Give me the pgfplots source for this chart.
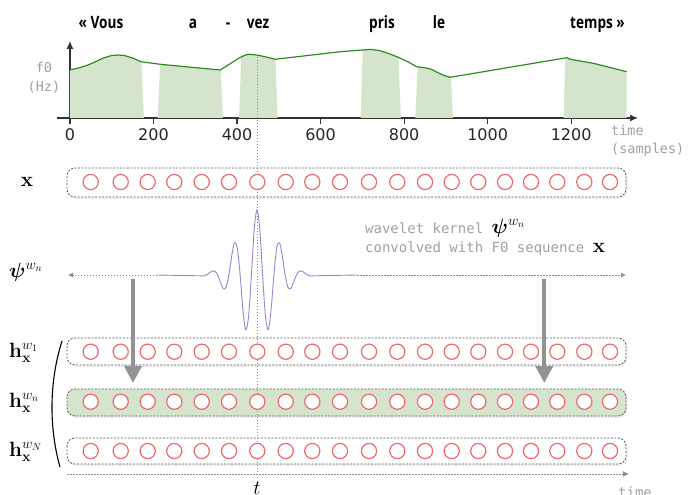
\documentclass[border=0pt]{standalone}
\usepackage[no-math]{fontspec}
\usepackage{bm}
\usepackage{pgfplots}
\pgfplotsset{compat=1.18}
\usetikzlibrary{arrows.meta,shadows}
\newfontfamily\tickfont{DejaVu Sans}
\newfontfamily\monofont{DejaVu Sans Mono}
\newfontfamily\wordfont[FakeStretch=0.8]{Open Sans}
\definecolor{fzgreen}{RGB}{44,140,32}
\definecolor{fzfill}{RGB}{213,228,205}
\definecolor{circ}{RGB}{238,106,106}
\definecolor{wav}{RGB}{140,140,210}
\definecolor{lbl}{RGB}{160,160,160}
\definecolor{arr}{RGB}{145,147,150}
\newcommand\msz{\fontsize{20bp}{24bp}\selectfont}
\tikzset{
  boxst/.style={draw=black!65, dash pattern=on 2bp off 1.5bp, line width=0.8bp, rounded corners=8bp,
    drop shadow={opacity=0.12, shadow xshift=1.5bp, shadow yshift=-2bp}},
  dotg/.style={draw=black!45, line width=0.8bp, dash pattern=on 1.5bp off 1.5bp}}
\pgfplotsset{circst/.style={only marks, mark=*, mark size=7.6bp, mark options={draw=circ, fill=white, line width=1.2bp}}}
\begin{document}
\begin{tikzpicture}
\path[use as bounding box] (0,0) rectangle (689bp,495bp);
% ---------------- top f0 axis ----------------
\begin{axis}[at={(57bp,377bp)}, anchor=south west, width=581bp, height=77bp, scale only axis,
  xmin=-31, xmax=1360, ymin=0, ymax=77, axis lines=middle,
  every inner x axis line/.append style={-{Latex[length=8bp,width=7bp]}},
  every inner y axis line/.append style={-{Latex[length=8bp,width=7bp]}},
  axis line style={line width=1.2bp, black!80},
  xtick={0,200,400,600,800,1000,1200}, ytick=\empty,
  hide obscured x ticks=false,
  tick align=outside, major tick length=6bp, tick style={line width=1.2bp, black!80},
  /pgf/number format/assume math mode=true, /pgf/number format/1000 sep={},
  xticklabel style={font=\tickfont\fontsize{16bp}{19bp}\selectfont, text=black!85, yshift=-1bp},
  clip=false]
\addplot[fill=fzfill, draw=none] coordinates {(177,0) (0,0) (0,48) (20,50) (40,52.5) (60,56) (80,60) (100,62.5) (115,63) (130,62.5) (150,60) (170,56.3) (171,56.2)} -- cycle;
\addplot[fill=fzfill, draw=none] coordinates {(210,0) (216,53.7) (360,48) (361,48.3) (366,0)} -- cycle;
\addplot[fill=fzfill, draw=none] coordinates {(405,0) (410,61) (420,63) (430,63.7) (447,63) (470,61) (491,58.7) (492,58.75) (497,0)} -- cycle;
\addplot[fill=fzfill, draw=none] coordinates {(696,0) (701,68) (720,68.6) (740,67.5) (760,65) (786,60.7) (787,60.5) (792,0)} -- cycle;
\addplot[fill=fzfill, draw=none] coordinates {(827,0) (832,51.2) (850,50.2) (865,48.8) (880,45.5) (895,42.7) (910,40.7) (912,40.84) (917,0)} -- cycle;
\addplot[fill=fzfill, draw=none] coordinates {(1182,0) (1186,60) (1190,60.3) (1198,58.7) (1253,54.7) (1333,46.3) (1333,0)} -- cycle;
\addplot[fzgreen, line width=1.2bp] coordinates {(0,48) (20,50) (40,52.5) (60,56) (80,60) (100,62.5) (115,63) (130,62.5) (150,60) (170,56.3) (216,53.7) (360,48) (405,60) (420,63) (430,63.7) (447,63) (470,61) (491,58.7) (647,66.3) (700,68) (720,68.6) (740,67.5) (760,65) (786,60.7) (810,56) (830,51.3) (850,50.2) (865,48.8) (880,45.5) (895,42.7) (910,40.7) (1190,60.3) (1198,58.7) (1253,54.7) (1333,46.3)};
\end{axis}
% ---------------- overlay axis in pixel units ----------------
\begin{axis}[at={(0,0)}, anchor=south west, width=689bp, height=495bp, scale only axis,
  xmin=0, xmax=689, ymin=0, ymax=495, y dir=reverse, hide axis, clip=false]
% word labels
\node[anchor=base, font=\wordfont\bfseries\fontsize{17bp}{20bp}\selectfont] at (axis cs:101,28.5) {« Vous};
\node[anchor=base, font=\wordfont\bfseries\fontsize{17bp}{20bp}\selectfont] at (axis cs:193,28.5) {a};
\node[anchor=base, font=\wordfont\bfseries\fontsize{17bp}{20bp}\selectfont] at (axis cs:228,28.5) {-};
\node[anchor=base, font=\wordfont\bfseries\fontsize{17bp}{20bp}\selectfont] at (axis cs:258,28.5) {vez};
\node[anchor=base, font=\wordfont\bfseries\fontsize{17bp}{20bp}\selectfont] at (axis cs:382,28.5) {pris};
\node[anchor=base, font=\wordfont\bfseries\fontsize{17bp}{20bp}\selectfont] at (axis cs:439,28.5) {le};
\node[anchor=base, font=\wordfont\bfseries\fontsize{17bp}{20bp}\selectfont] at (axis cs:597.5,28.5) {temps »};
% axis labels
\node[inner sep=0pt, align=center, font=\monofont\fontsize{13.5bp}{19bp}\selectfont, text=lbl] at (axis cs:44,77.5) {f0\\(Hz)};
\node[inner sep=0pt, anchor=west, align=left, font=\monofont\fontsize{13.5bp}{18.5bp}\selectfont, text=lbl] at (axis cs:611,141) {time\\(samples)};
% row boxes
\draw[boxst, fill=white] (axis cs:67,168) rectangle (axis cs:626,197);
\draw[boxst, fill=white] (axis cs:67,338) rectangle (axis cs:626,365);
\draw[boxst, fill=fzfill] (axis cs:67,389) rectangle (axis cs:626,416);
\draw[boxst, fill=white] (axis cs:67,438) rectangle (axis cs:626,464);
% circles
\addplot[circst] coordinates {(90.7,182) (120.7,182) (147.7,182) (174.3,182) (201.7,182) (229,182) (257.3,182) (285.7,182) (312.3,182) (340,182) (369,182) (397.3,182) (425,182) (451.7,182) (478.3,182) (505,182) (531,182) (557.3,182) (584.3,182) (610,182)};
\addplot[circst] coordinates {(90.7,351.7) (120.7,351.7) (147.7,351.7) (174.3,351.7) (201.7,351.7) (229,351.7) (257.3,351.7) (285.7,351.7) (312.3,351.7) (340,351.7) (369,351.7) (397.3,351.7) (425,351.7) (451.7,351.7) (478.3,351.7) (505,351.7) (531,351.7) (557.3,351.7) (584.3,351.7) (610,351.7)};
\addplot[circst] coordinates {(90.7,401.7) (120.7,401.7) (147.7,401.7) (174.3,401.7) (201.7,401.7) (229,401.7) (257.3,401.7) (285.7,401.7) (312.3,401.7) (340,401.7) (369,401.7) (397.3,401.7) (425,401.7) (451.7,401.7) (478.3,401.7) (505,401.7) (531,401.7) (557.3,401.7) (584.3,401.7) (610,401.7)};
\addplot[circst] coordinates {(90.7,451) (120.7,451) (147.7,451) (174.3,451) (201.7,451) (229,451) (257.3,451) (285.7,451) (312.3,451) (340,451) (369,451) (397.3,451) (425,451) (451.7,451) (478.3,451) (505,451) (531,451) (557.3,451) (584.3,451) (610,451)};
% dotted guide lines
\draw[dotg] (axis cs:257,57) -- (axis cs:257,480);
\draw[dotg, -{Latex[length=5bp,width=5bp]}] (axis cs:157,275) -- (axis cs:68,275);
\draw[dotg, -{Latex[length=5bp,width=5bp]}] (axis cs:357,275) -- (axis cs:626,275);
\draw[dotg, -{Latex[length=6bp,width=6bp]}] (axis cs:67,474) -- (axis cs:629,474);
% wavelet
\addplot[wav, line width=0.9bp, smooth] coordinates {(157,275) (200.75,275.81) (203.56,275.88) (206.38,275) (209.19,273.06) (212,271.07) (214.81,271.09) (217.63,275) (220.44,282.22) (223.25,288.42) (226.06,287.21) (228.88,275) (231.69,256.08) (234.5,242.76) (237.31,248.13) (240.13,275) (242.94,309.95) (245.75,329.55) (248.56,316.64) (251.38,275) (254.19,229.54) (257,210) (259.81,229.54) (262.63,275) (265.44,316.64) (268.25,329.55) (271.06,309.95) (273.88,275) (276.69,248.13) (279.5,242.76) (282.31,256.08) (285.13,275) (287.94,287.21) (290.75,288.42) (293.56,282.22) (296.38,275) (299.19,271.09) (302,271.07) (304.81,273.06) (307.63,275) (310.44,275.88) (313.25,275.81) (357,275)};
% big arrows
\draw[arr, line width=4bp, -{Triangle[length=17bp,width=17bp]}] (axis cs:133,279) -- (axis cs:133,383);
\draw[arr, line width=4bp, -{Triangle[length=17bp,width=17bp]}] (axis cs:544.3,279) -- (axis cs:544.3,383);
% parenthesis
\draw[line width=1.1bp] (axis cs:62,341) .. controls (axis cs:49,382) and (axis cs:49,428) .. (axis cs:60,467);
% math labels
\node[anchor=center, inner sep=0pt, font=\msz] at (axis cs:27,182) {$\mathbf{x}$};
\node[anchor=base west, inner sep=0pt, font=\msz] at (axis cs:9,277) {$\bm{\psi}^{w_n}$};
\node[anchor=base west, inner sep=0pt, font=\msz] at (axis cs:9,357) {$\mathbf{h}_{\mathbf{x}}^{w_1}$};
\node[anchor=base west, inner sep=0pt, font=\msz] at (axis cs:9,407) {$\mathbf{h}_{\mathbf{x}}^{w_n}$};
\node[anchor=base west, inner sep=0pt, font=\msz] at (axis cs:9,456) {$\mathbf{h}_{\mathbf{x}}^{w_N}$};
\node[anchor=base, inner sep=0pt, font=\msz] at (axis cs:257,494) {$t$};
% wavelet caption
\node[anchor=base west, inner sep=0pt, font=\monofont\fontsize{14bp}{19bp}\selectfont, text=lbl] at (axis cs:365,233) {wavelet kernel {\color{black}\msz$\bm{\psi}^{w_n}$}};
\node[anchor=base west, inner sep=0pt, font=\monofont\fontsize{14bp}{19bp}\selectfont, text=lbl] at (axis cs:365,252) {convolved with F0 sequence {\color{black}\msz$\mathbf{x}$}};
\node[anchor=base west, inner sep=0pt, font=\monofont\fontsize{14bp}{19bp}\selectfont, text=lbl] at (axis cs:618,497) {time};
\end{axis}
\end{tikzpicture}
\end{document}
